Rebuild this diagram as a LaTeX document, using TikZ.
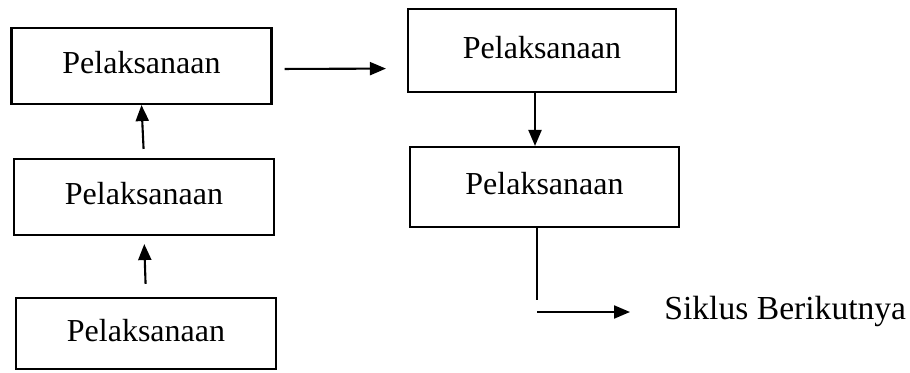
\documentclass[tikz,border=0pt]{standalone}
\usepackage{fontspec}
\setmainfont{Liberation Serif}
\usetikzlibrary{arrows.meta,calc}
\begin{document}
\begin{tikzpicture}[x=0.5pt,y=-0.5pt,
  box/.style={draw,line width=1.05pt,minimum width=130pt,minimum height=38pt,inner sep=0pt,text depth=3.5pt,font=\fontsize{16}{19}\selectfont},
  conn/.style={line width=1.05pt},
  arr/.style={conn,-{Triangle[length=8pt,width=6.5pt]}}]
\useasboundingbox (0,0) rectangle (910,372);
\node[box] (A) at (141.5,66) {Pelaksanaan};
\node[box] (B) at (144,197) {Pelaksanaan};
\node[box,minimum height=35.5pt] (C) at (146,333.5) {Pelaksanaan};
\node[box,minimum width=134pt,minimum height=41.5pt] (D) at (542,50.5) {Pelaksanaan};
\node[box,minimum width=134.5pt,minimum height=40pt] (E) at (544.5,187) {Pelaksanaan};
\node[anchor=west,inner sep=0pt,font=\fontsize{16.8}{19}\selectfont] (S) at (664,311) {Siklus Berikutnya};
\coordinate (ebot) at (537,300);
\coordinate (hst) at (537,312);
\draw[arr,shorten <=6.5pt,shorten >=4pt] (C.north) -- (B.south);
\draw[arr,shorten <=4.5pt] (B.north) -- (A.north |- A.south);
\draw[arr,shorten <=6pt,shorten >=10.5pt] ($(A.east)+(0,3)$) -- ($(D.west)+(0,18)$);
\draw[arr] ($(D.south)+(-7,0)$) -- ($(E.north)+(-9.5,0)$);
\draw[conn] (E.south -| ebot) -- (ebot);
\draw[arr,shorten >=17pt] (hst) -- (hst -| S.west);
\end{tikzpicture}
\end{document}
